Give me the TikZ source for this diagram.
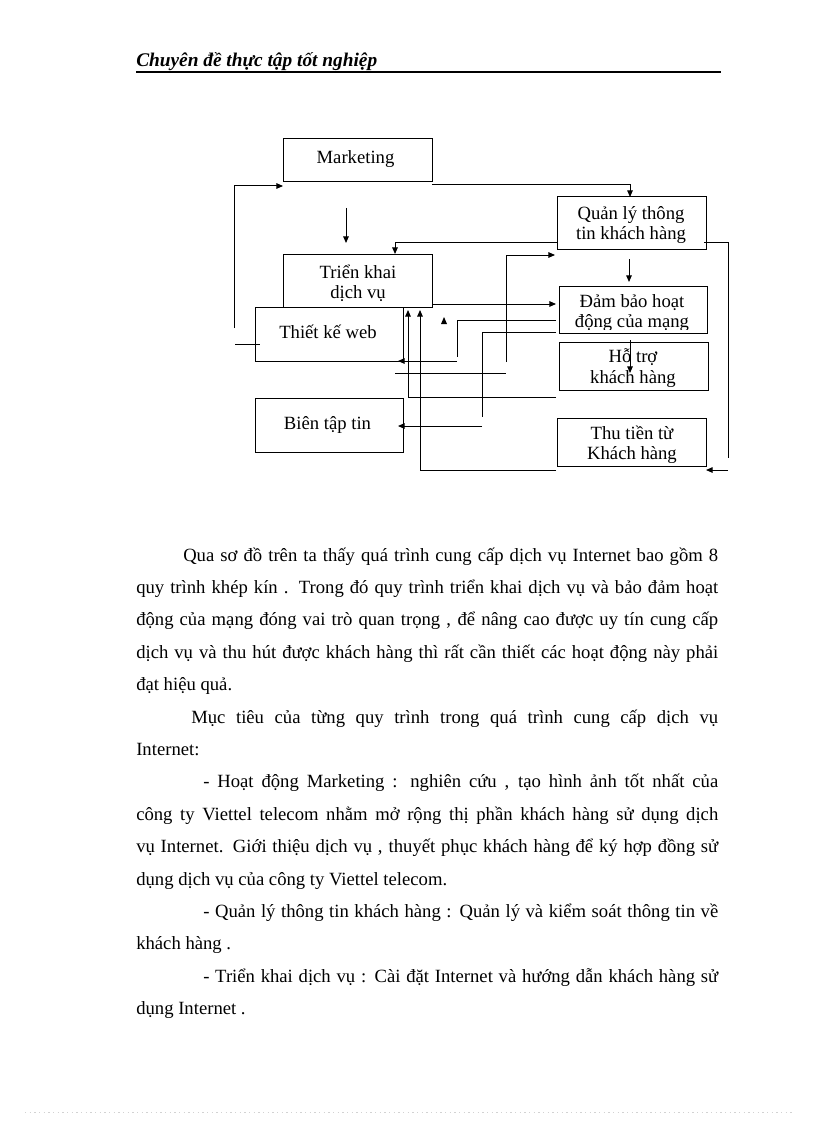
\documentclass[tikz,border=0pt]{standalone}
\usepackage{fontspec}
\setmainfont{Liberation Serif}
\usetikzlibrary{arrows.meta}
\tikzstyle{box} = [draw, line width=0.75pt, inner sep=0pt]
\tikzstyle{lbl} = [align=center, inner sep=0pt, font=\fontsize{14}{15}\selectfont]
\tikzstyle{wire} = [line width=0.75pt]
\tikzstyle{arrow} = [line width=0.75pt, -{Triangle[length=5pt,width=4.2pt]}]
\tikzstyle{txt} = [anchor=base west, inner sep=0pt, font=\fontsize{14}{16}\selectfont]

\begin{document}
\begin{tikzpicture}[x=0.75pt, y=-0.75pt]
\fill[white] (0,0) rectangle (816,1123);
\useasboundingbox (0,0) rectangle (816,1123);

\node[anchor=base west, inner sep=0pt, font=\fontsize{14.5}{16}\selectfont\bfseries\itshape] (head) at (136,67) {Chuyên đề thực tập tốt nghiệp};
\draw[line width=1.5pt] (136,72) -- (721,72);

\node[box, minimum width=111.75pt, minimum height=32.25pt] (mkt) at (357.5,160.5) {};
\node[box, minimum width=111.75pt, minimum height=39.75pt] (trien) at (357.5,280.5) {};
\node[box, minimum width=111pt, minimum height=40.5pt] (web) at (329,334) {};
\node[box, minimum width=111pt, minimum height=40.5pt] (bien) at (329,425) {};
\node[box, minimum width=111.75pt, minimum height=39pt] (qly) at (631.5,223) {};
\node[box, minimum width=111pt, minimum height=35.25pt] (dam) at (633,309.5) {};
\node[box, minimum width=111.75pt, minimum height=36pt] (hotro) at (633.5,366) {};
\node[box, minimum width=111.75pt, minimum height=36pt] (thu) at (631.5,442) {};

\node[lbl, anchor=base] (mktl) at (355.5,164) {Marketing};
\node[lbl] (trienl) at (358,283.5) {Triển khai\\dịch vụ};
\node[lbl, anchor=base] (webl) at (328,338) {Thiết kế web};
\node[lbl, anchor=base] (bienl) at (327.5,429) {Biên tập tin};
\node[lbl] (qlyl) at (631,225.5) {Quản lý thông\\tin khách hàng};
\begin{scope}
\clip (559,286) rectangle (707,329.5);
\node[lbl] (daml) at (632,313) {Đảm bảo hoạt\\động của mạng};
\end{scope}
\begin{scope}
\clip (559,342) rectangle (708,386);
\node[lbl, font=\fontsize{14}{15.75}\selectfont] (hotrol) at (633,368) {Hỗ trợ\\khách hàng};
\end{scope}
\begin{scope}
\clip (557,418) rectangle (706,462.5);
\node[lbl] (thul) at (632,445) {Thu tiền từ\\Khách hàng};
\end{scope}

\coordinate (lp) at (234,328);
\coordinate (lpm) at (283,186);
\coordinate (stb) at (235,344);
\coordinate (stbw) at (260,344);
\coordinate (mq) at (432,185);
\coordinate (mqn) at (630,197);
\coordinate (mt1) at (346,208);
\coordinate (mt2) at (346,243);
\coordinate (qt) at (557,242);
\coordinate (qtn) at (395,254);
\coordinate (td) at (432,304);
\coordinate (tdw) at (556,304);
\coordinate (qr) at (704,242);
\coordinate (qrb) at (728,458);
\coordinate (tr) at (728,470);
\coordinate (tre) at (706,470);
\coordinate (qd1) at (629,259);
\coordinate (qd2) at (629,282);
\coordinate (dh1) at (630,340);
\coordinate (dh2) at (630,373);
\coordinate (u1) at (556,397);
\coordinate (u1t) at (408,310);
\coordinate (u2) at (556,470);
\coordinate (u2t) at (420,310);
\coordinate (dw1) at (556,320);
\coordinate (dw2) at (457,357);
\coordinate (dw3) at (457,361);
\coordinate (dwt) at (398,361);
\coordinate (db1) at (556,332);
\coordinate (db2) at (482,417);
\coordinate (db3) at (482,426);
\coordinate (dbt) at (398,426);
\coordinate (lq1) at (395,373);
\coordinate (lq2) at (506,373);
\coordinate (lq3) at (506,362);
\coordinate (lqt) at (555,255);

\draw[arrow] (lp) |- (lpm);
\draw[wire] (stb) -- (stbw);
\draw[arrow] (mq) -| (mqn);
\draw[arrow] (mt1) -- (mt2);
\draw[arrow] (qt) -| (qtn);
\draw[arrow] (td) -- (tdw);
\draw[wire] (qr) -| (qrb);
\draw[arrow] (tr) -- (tre);
\draw[arrow] (qd1) -- (qd2);
\draw[arrow] (dh1) -- (dh2);
\draw[arrow] (u1) -| (u1t);
\draw[arrow] (u2) -| (u2t);
\draw[wire] (dw1) -| (dw2);
\draw[arrow] (dw3) -- (dwt);
\draw[wire] (db1) -| (db2);
\draw[arrow] (db3) -- (dbt);
\draw[wire] (lq1) -- (lq2);
\draw[arrow] (lq3) |- (lqt);
\fill (441,324) -- (447,324) -- (444,317) -- cycle;

\node[txt] (p1) at (183,561) {\makebox[401.25pt][s]{Qua sơ đồ trên ta thấy quá trình cung cấp dịch vụ Internet bao gồm 8}};
\node[txt] (p2) at (136,593.4) {\makebox[436.5pt][s]{quy trình khép kín . Trong đó quy trình triển khai  dịch vụ và bảo đảm hoạt}};
\node[txt] (p3) at (136,625.8) {\makebox[436.5pt][s]{động của mạng  đóng vai trò quan trọng , để nâng cao được uy tín cung cấp}};
\node[txt] (p4) at (136,658.2) {\makebox[436.5pt][s]{dịch vụ và thu hút  được khách hàng thì rất cần thiết  các hoạt động này phải}};
\node[txt] (p5) at (136,690.6) {đạt hiệu  quả.};
\node[txt] (p6) at (191,723) {\makebox[395.25pt][s]{Mục tiêu của từng quy trình trong quá trình cung cấp dịch vụ}};
\node[txt] (p7) at (136,755.4) {Internet:};
\node[txt] (p8) at (203,787.8) {\makebox[386.25pt][s]{- Hoạt động Marketing  : nghiên  cứu , tạo hình ảnh tốt nhất của}};
\node[txt] (p9) at (136,820.2) {\makebox[436.5pt][s]{công ty Viettel  telecom nhằm mở rộng thị phần khách hàng sử dụng dịch}};
\node[txt] (p10) at (136,852.6) {\makebox[436.5pt][s]{vụ Internet.  Giới thiệu dịch vụ , thuyết phục khách hàng để ký hợp đồng sử}};
\node[txt] (p11) at (136,885) {dụng dịch vụ của công ty Viettel  telecom.};
\node[txt] (p12) at (203,917.4) {\makebox[386.25pt][s]{- Quản lý thông tin khách hàng : Quản lý và kiểm  soát thông tin về}};
\node[txt] (p13) at (136,949.8) {khách hàng .};
\node[txt] (p14) at (203,982.2) {\makebox[386.25pt][s]{- Triển khai  dịch vụ : Cài đặt Internet và hướng dẫn khách hàng sử}};
\node[txt] (p15) at (136,1014.6) {dụng Internet  .};

\draw[gray!35, line width=0.6pt, dash pattern=on 1pt off 2.5pt] (25,1112) -- (795,1112);

\end{tikzpicture}
\end{document}
